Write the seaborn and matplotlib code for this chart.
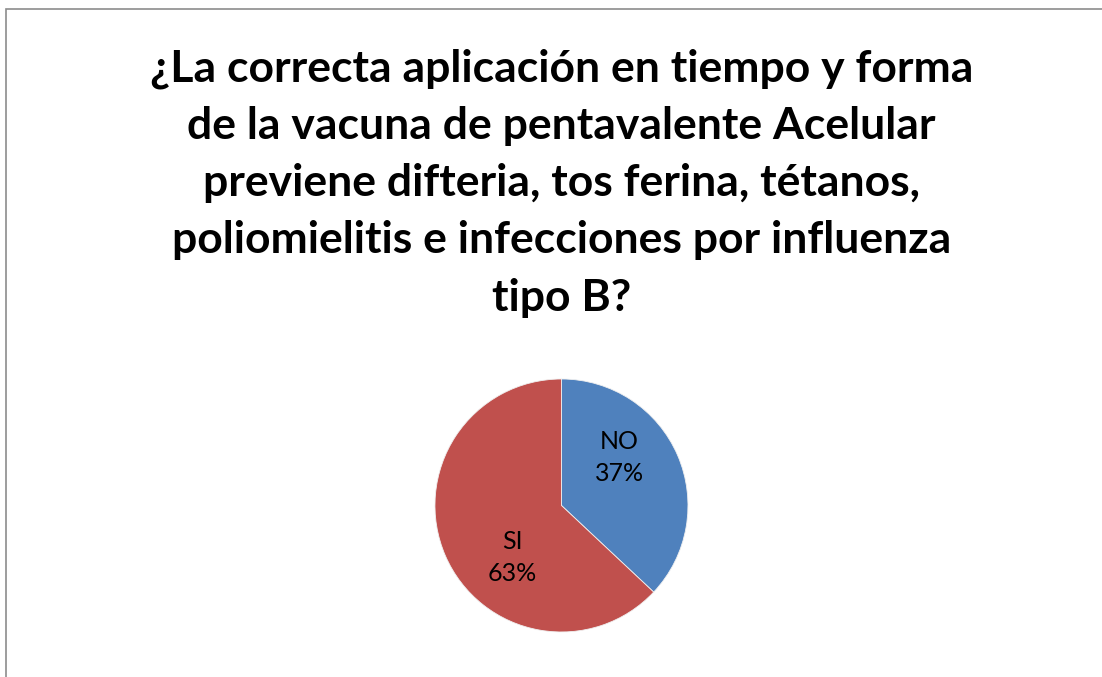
import matplotlib
matplotlib.use("Agg")
import matplotlib.pyplot as plt
import seaborn as sns
from matplotlib.patches import Rectangle

# Datos de la encuesta
categorias = ["NO", "SI"]
porcentajes = [37, 63]
colores = ["#4F81BD", "#C0504D"]

titulo = ("¿La correcta aplicación en tiempo y forma\n"
          "de la vacuna de pentavalente Acelular\n"
          "previene difteria, tos ferina, tétanos,\n"
          "poliomielitis e infecciones por influenza\n"
          "tipo B?")

sns.set_theme(style="white")
plt.rcParams['font.family'] = ['Lato', 'DejaVu Sans']

fig = plt.figure(figsize=(11.02, 6.77), dpi=100)
fig.patch.set_facecolor("white")

# marco gris del área de gráfico (solo izquierda y arriba visibles)
fig.add_artist(Rectangle((6 / 1102, -0.5), 3.0, 1.5 - 9 / 677,
                         transform=fig.transFigure, fill=False,
                         edgecolor="#8c8c8c", linewidth=1.2))

fig.text(0.5095, 1 - 183 / 677, titulo, ha="center", va="center",
         fontsize=32, fontweight="bold", linespacing=1.52, color="black")

ax = fig.add_axes([0.3947, 0.0665, 0.2296, 0.3737])
wedges, _ = ax.pie(porcentajes, colors=colores, startangle=90,
                   counterclock=False, radius=1,
                   wedgeprops={"edgecolor": "#f0f0f0", "linewidth": 0.6})
ax.set_xlim(-1, 1)
ax.set_ylim(-1, 1)
ax.set_aspect("auto")

# etiquetas de datos
posiciones = [(0.46, 0.38), (-0.39, -0.41)]
for cat, pct, (px, py) in zip(categorias, porcentajes, posiciones):
    ax.text(px, py, f"{cat}\n{pct}%", ha="center", va="center",
            fontsize=18, linespacing=1.45, color="black")

plt.savefig("out.png", dpi=100)
